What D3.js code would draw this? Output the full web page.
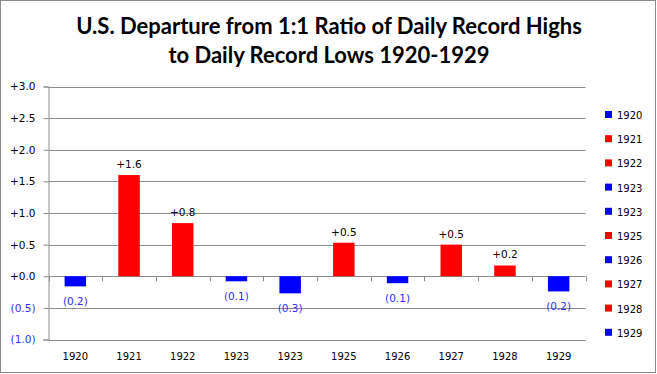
<!DOCTYPE html>
<html><head><meta charset="utf-8">
<script src="https://cdn.jsdelivr.net/npm/d3@7"></script>
<style>body{margin:0;background:#fff}</style>
</head><body>
<svg id="c" width="657" height="374"></svg>
<script>
const categories = ["1920","1921","1922","1923","1923","1925","1926","1927","1928","1929"];
const values = [-0.16, 1.60, 0.84, -0.08, -0.27, 0.53, -0.11, 0.50, 0.17, -0.24];
const valueLabels = ["(0.2)","+1.6","+0.8","(0.1)","(0.3)","+0.5","(0.1)","+0.5","+0.2","(0.2)"];
const yTicks = [-1.0,-0.5,0,0.5,1.0,1.5,2.0,2.5,3.0];
const yTickLabels = ["(1.0)","(0.5)","+0.0","+0.5","+1.0","+1.5","+2.0","+2.5","+3.0"];
const titleLines = ["U.S. Departure from 1:1 Ratio of Daily Record Highs","to Daily Record Lows 1920-1929"];

const RED="#ff0000", BLUE="#0000ff", NEG="#3030ff", GRID="#8c8c8c";
const svg=d3.select("#c");
svg.append("rect").attr("x",0.5).attr("y",0.5).attr("width",655).attr("height",372)
  .attr("fill","#fff").attr("stroke","#8c8c8c");

const L=48.5, R=585.5, T=86.5, B=339.5;
const x=d3.scaleBand().domain(d3.range(categories.length)).range([L,R]).paddingInner(0.6).paddingOuter(0.3);
const xb=d3.scaleBand().domain(d3.range(categories.length)).range([L,R]);
const y=d3.scaleLinear().domain([-1,3]).range([B,T]);

// title
svg.append("g").selectAll("text").data(titleLines).join("text")
  .attr("x",329).attr("y",(d,i)=>34+i*29).attr("text-anchor","middle")
  .attr("font-family","Lato, 'Open Sans', sans-serif").attr("font-weight","bold")
  .attr("font-size",22).attr("fill","#000").text(d=>d);

// gridlines
svg.append("g").selectAll("line").data(yTicks).join("line")
  .attr("x1",L).attr("x2",R).attr("y1",d=>Math.round(y(d))+0.5).attr("y2",d=>Math.round(y(d))+0.5)
  .attr("stroke",GRID).attr("stroke-width",1);

// y axis
const ya=svg.append("g").attr("transform",`translate(${L},0)`)
  .call(d3.axisLeft(y).tickValues(yTicks).tickSize(5).tickPadding(8)
    .tickFormat((d,i)=>yTickLabels[i]));
ya.select(".domain").attr("stroke",GRID);
ya.selectAll(".tick line").attr("stroke",GRID);
ya.selectAll(".tick text").attr("font-family","'DejaVu Sans', Verdana, sans-serif").attr("font-size",10.5)
  .attr("fill",(d)=>d<0?NEG:"#000");

// x ticks at zero line (boundaries)
const bounds=d3.range(categories.length+1).map(i=>L+i*xb.step());
svg.append("g").selectAll("line").data(bounds).join("line")
  .attr("x1",d=>Math.round(d)+0.5).attr("x2",d=>Math.round(d)+0.5)
  .attr("y1",y(0)).attr("y2",y(0)+5).attr("stroke",GRID);

// bars
svg.append("g").selectAll("rect").data(values).join("rect")
  .attr("x",(d,i)=>x(i)).attr("width",x.bandwidth())
  .attr("y",d=>y(Math.max(0,d))).attr("height",d=>Math.abs(y(d)-y(0)))
  .attr("fill",d=>d>=0?RED:BLUE);

// value labels
svg.append("g").selectAll("text").data(values).join("text")
  .attr("x",(d,i)=>x(i)+x.bandwidth()/2)
  .attr("y",d=>d>=0?y(d)-7:y(d)+19)
  .attr("text-anchor","middle").attr("font-family","'DejaVu Sans', Verdana, sans-serif").attr("font-size",10.5)
  .attr("fill",d=>d>=0?"#000":NEG).text((d,i)=>valueLabels[i]);

// category labels
svg.append("g").selectAll("text").data(categories).join("text")
  .attr("x",(d,i)=>xb(i)+xb.bandwidth()/2).attr("y",360)
  .attr("text-anchor","middle").attr("font-family","'DejaVu Sans', Verdana, sans-serif").attr("font-size",10)
  .attr("fill","#000").text(d=>d);

// legend
const lg=svg.append("g").selectAll("g").data(categories).join("g")
  .attr("transform",(d,i)=>`translate(605,${115+i*24.2})`);
lg.append("rect").attr("x",0).attr("y",-4).attr("width",7).attr("height",7)
  .attr("fill",(d,i)=>values[i]>=0?RED:BLUE);
lg.append("text").attr("x",12).attr("y",4).attr("font-family","'DejaVu Sans', Verdana, sans-serif")
  .attr("font-size",10).attr("fill","#000").text(d=>d);
</script>
</body></html>
